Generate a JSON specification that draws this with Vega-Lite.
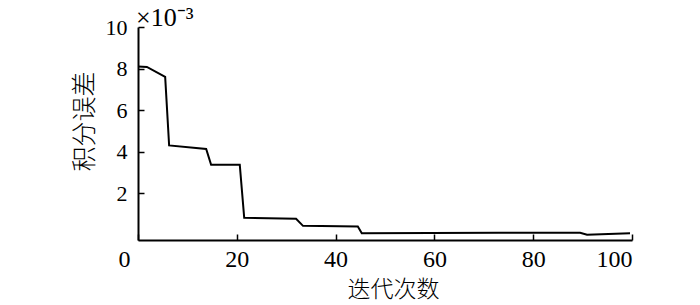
{
  "$schema": "https://vega.github.io/schema/vega-lite/v6.json",
  "width": 494,
  "height": 213,
  "autosize": "none",
  "padding": {"left": 138, "top": 27, "right": 68, "bottom": 65},
  "background": "white",
  "title": {
    "text": "×10⁻³",
    "anchor": "start",
    "frame": "group",
    "font": "Liberation Serif",
    "fontSize": 26,
    "fontWeight": "normal",
    "color": "black",
    "offset": -15,
    "dx": -2
  },
  "config": {
    "view": {"stroke": null},
    "axis": {
      "domainColor": "black",
      "domainWidth": 2,
      "tickColor": "black",
      "tickWidth": 1.5,
      "tickSize": -6,
      "grid": false,
      "labelColor": "black",
      "titleColor": "black",
      "labelFont": "Liberation Serif",
      "titleFont": "Noto Sans CJK SC",
      "titleFontWeight": 300
    }
  },
  "data": {
    "values": [
      {"iter": 0, "err": 8.1},
      {"iter": 1.8, "err": 8.08},
      {"iter": 5.5, "err": 7.6},
      {"iter": 6.3, "err": 4.3},
      {"iter": 13.8, "err": 4.13},
      {"iter": 14.8, "err": 3.37},
      {"iter": 20.6, "err": 3.37},
      {"iter": 21.5, "err": 0.82},
      {"iter": 32, "err": 0.77},
      {"iter": 33.4, "err": 0.43},
      {"iter": 44.5, "err": 0.4},
      {"iter": 45.3, "err": 0.08},
      {"iter": 73, "err": 0.1},
      {"iter": 89.5, "err": 0.1},
      {"iter": 90.9, "err": 0.0},
      {"iter": 99.6, "err": 0.08}
    ]
  },
  "mark": {"type": "line", "color": "black", "strokeWidth": 2},
  "encoding": {
    "x": {
      "field": "iter",
      "type": "quantitative",
      "scale": {"domain": [0, 100], "nice": false, "zero": false},
      "axis": {
        "values": [0, 20, 40, 60, 80, 100],
        "title": "迭代次数",
        "labelFontSize": 24,
        "labelPadding": 13,
        "labelOffset": {"condition": {"test": "datum.value == 0", "value": -20}, "value": 0},
        "titleFontSize": 23,
        "titlePadding": 7,
        "titleX": 255
      }
    },
    "y": {
      "field": "err",
      "type": "quantitative",
      "scale": {"domain": [-0.25, 10], "nice": false, "zero": false},
      "axis": {
        "values": [2, 4, 6, 8, 10],
        "title": "积分误差",
        "labelFontSize": 22,
        "labelPadding": 17,
        "titleFontSize": 25,
        "titlePadding": 8,
        "titleY": 94
      }
    }
  }
}
